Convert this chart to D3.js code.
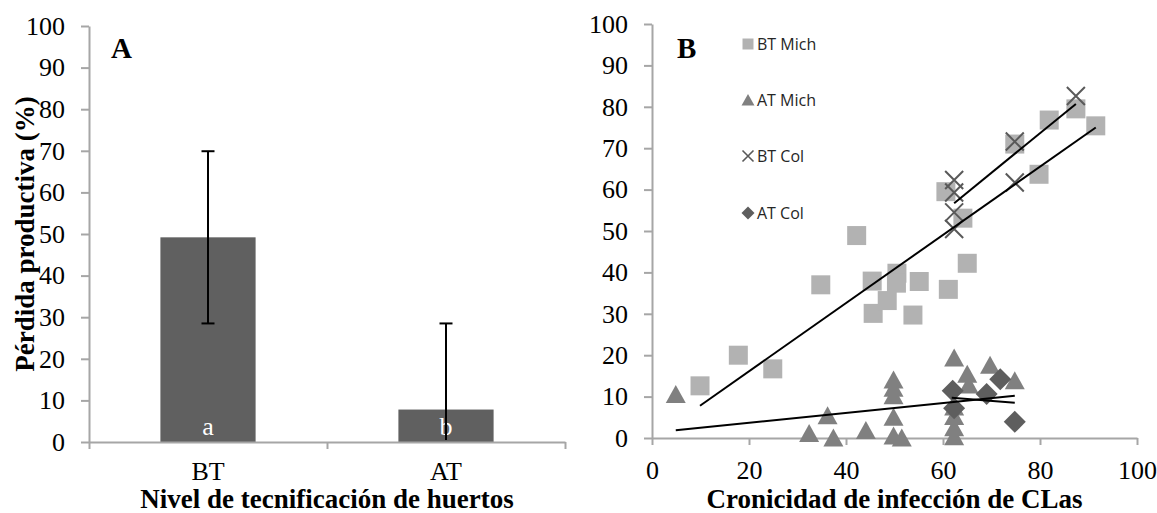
<!DOCTYPE html>
<html><head><meta charset="utf-8">
<script src="https://cdn.jsdelivr.net/npm/d3@7"></script>
<style>
html,body{margin:0;padding:0;background:#fff;}
svg{display:block;}
</style></head>
<body>
<svg id="chart" width="1157" height="513"></svg>
<script>
// ---------- DATA ----------
const barCategories = ["BT", "AT"];
const barValues = [49.2, 7.8];
const barErrors = [20.7, 20.7];
const barLetters = ["a", "b"];
const yTicksA = [0,10,20,30,40,50,60,70,80,90,100];

const xTicksB = [0,20,40,60,80,100];
const yTicksB = [0,10,20,30,40,50,60,70,80,90,100];
const seriesNames = ["BT Mich", "AT Mich", "BT Col", "AT Col"];
const btMich = [[9.9,12.6],[17.8,20.0],[24.9,16.7],[34.8,37.0],[42.2,48.9],[45.4,37.9],[45.6,30.1],[48.5,33.2],[50.5,39.8],[50.4,37.4],[55.1,37.8],[53.8,29.7],[61.1,35.9],[65.0,42.2],[60.6,59.5],[64.1,53.1],[74.8,71.0],[79.8,63.7],[81.9,76.8],[87.4,79.5],[91.5,75.4]];
const atMich = [[4.9,10.5],[32.4,1.1],[36.2,5.4],[37.4,0],[44.1,1.8],[49.8,14],[49.8,12],[49.8,10.2],[49.8,5],[49.8,0.5],[51.5,0],[62.3,19.3],[62.3,7.5],[62.3,5.2],[62.3,2.5],[62.3,0.3],[65,15.4],[65.3,12.8],[69.7,17.6],[74.8,13.8]];
const btCol = [[62.3,62.3],[62.3,59.3],[62.3,54.5],[62.3,50.5],[74.8,71.6],[74.8,61.7],[87.4,82.6]];
const atCol = [[62.0,11.4],[62.3,7.2],[69.0,10.6],[71.8,14.2],[74.8,3.9]];
// trendline endpoints [x0,y0,x1,y1] in data units
const trendBTMich = [9.9,7.8,91.5,75.0];
const trendBTCol = [62.3,56.7,87.4,80.7];
const trendATMich = [4.9,1.9,74.8,10.2];
const trendATCol = [61.8,9.7,74.8,8.5];

// ---------- STYLE ----------
const serif = "'Liberation Serif','Times New Roman',serif";
const sans = "'Open Sans','Liberation Sans',sans-serif";
const axisColor = "#a6a6a6";
const tickFont = 26, titleFont = 27;
const svg = d3.select("#chart");

function styleAxis(g){
  g.select(".domain").attr("stroke", axisColor).attr("stroke-width", 2);
  g.selectAll(".tick line").attr("stroke", axisColor).attr("stroke-width", 2);
  g.selectAll(".tick text").attr("font-family", serif).attr("font-size", tickFont).attr("fill", "#000");
}

// ---------- PANEL A ----------
const A = {left: 89, right: 565, top: 26, bottom: 442};
const xA = d3.scaleBand().domain(barCategories).range([A.left, A.right]).paddingInner(0.6).paddingOuter(0.3);
const xAedge = d3.scaleLinear().domain([0, barCategories.length]).range([A.left, A.right]);
const yA = d3.scaleLinear().domain([0,100]).range([A.bottom, A.top]);

const gA = svg.append("g");
gA.selectAll("rect.bar").data(barValues).join("rect")
  .attr("x", (d,i)=>xA(barCategories[i]))
  .attr("width", xA.bandwidth())
  .attr("y", d=>yA(d))
  .attr("height", d=>yA(0)-yA(d))
  .attr("fill", "#606060");

gA.append("g").attr("transform", `translate(${A.left},0)`)
  .call(d3.axisLeft(yA).tickValues(yTicksA).tickSize(8).tickPadding(16).tickSizeOuter(0))
  .call(styleAxis);
gA.append("g").attr("transform", `translate(0,${A.bottom})`)
  .call(d3.axisBottom(xAedge).tickValues(d3.range(barCategories.length+1)).tickSize(7).tickFormat("").tickSizeOuter(0))
  .call(styleAxis);
gA.selectAll("text.cat").data(barCategories).join("text")
  .attr("x", d=>xA(d)+xA.bandwidth()/2).attr("y", 480)
  .attr("text-anchor","middle").attr("font-family", serif).attr("font-size", tickFont).text(d=>d);

gA.selectAll("text.let").data(barLetters).join("text")
  .attr("x", (d,i)=>xA(barCategories[i])+xA.bandwidth()/2).attr("y", 435)
  .attr("text-anchor","middle").attr("font-family", serif).attr("font-size", tickFont).attr("fill","#fff").text(d=>d);

barValues.forEach((v,i)=>{
  const cx = xA(barCategories[i])+xA.bandwidth()/2;
  const hi = v+barErrors[i], lo = Math.max(0, v-barErrors[i]);
  gA.append("line").attr("x1",cx).attr("x2",cx).attr("y1",yA(hi)).attr("y2",yA(lo)-(v-barErrors[i] > 0 ? 0 : 2)).attr("stroke","#000").attr("stroke-width",2);
  gA.append("line").attr("x1",cx-6.5).attr("x2",cx+6.5).attr("y1",yA(hi)).attr("y2",yA(hi)).attr("stroke","#000").attr("stroke-width",2);
  if (v-barErrors[i] > 0)
    gA.append("line").attr("x1",cx-6.5).attr("x2",cx+6.5).attr("y1",yA(lo)).attr("y2",yA(lo)).attr("stroke","#000").attr("stroke-width",2);
});

gA.append("text").attr("x",111).attr("y",58).attr("font-family",serif).attr("font-weight","bold").attr("font-size",29).text("A");
gA.append("text").attr("transform",`translate(34,${(A.top+A.bottom)/2}) rotate(-90)`)
  .attr("text-anchor","middle").attr("font-family",serif).attr("font-weight","bold").attr("font-size",titleFont).text("Pérdida productiva (%)");
gA.append("text").attr("x",(A.left+A.right)/2).attr("y",508).attr("text-anchor","middle")
  .attr("font-family",serif).attr("font-weight","bold").attr("font-size",titleFont).text("Nivel de tecnificación de huertos");

// ---------- PANEL B ----------
const B = {left: 652, right: 1137, top: 24, bottom: 438};
const xB = d3.scaleLinear().domain([0,100]).range([B.left, B.right]);
const yB = d3.scaleLinear().domain([0,100]).range([B.bottom, B.top]);
const gB = svg.append("g");

gB.append("g").attr("transform", `translate(${B.left},0)`)
  .call(d3.axisLeft(yB).tickValues(yTicksB).tickSize(8).tickPadding(16).tickSizeOuter(0))
  .call(styleAxis);
gB.append("g").attr("transform", `translate(0,${B.bottom})`)
  .call(d3.axisBottom(xB).tickValues(xTicksB).tickSize(7).tickPadding(16).tickSizeOuter(0))
  .call(styleAxis);

const colBTMich = "#b2b2b2", colATMich = "#808080", colBTCol = "#595959", colATCol = "#5e5e5e";
const sqPath = d3.symbol().type(d3.symbolSquare).size(19*19)();
const triPath = "M0,-9.5L10,8.5L-10,8.5Z";
const diaPath = "M0,-11L11,0L0,11L-11,0Z";
const xPath = "M-9,-9L9,9M-9,9L9,-9";

gB.selectAll("path.sq").data(btMich).join("path")
  .attr("d", sqPath).attr("transform", d=>`translate(${xB(d[0])},${yB(d[1])})`).attr("fill", colBTMich);
gB.selectAll("path.tri").data(atMich).join("path")
  .attr("d", triPath).attr("transform", d=>`translate(${xB(d[0])},${yB(d[1])})`).attr("fill", colATMich);
gB.selectAll("path.xx").data(btCol).join("path")
  .attr("d", xPath).attr("transform", d=>`translate(${xB(d[0])},${yB(d[1])})`).attr("fill","none").attr("stroke", colBTCol).attr("stroke-width", 2);
gB.selectAll("path.dia").data(atCol).join("path")
  .attr("d", diaPath).attr("transform", d=>`translate(${xB(d[0])},${yB(d[1])})`).attr("fill", colATCol);

[trendBTMich, trendBTCol, trendATMich, trendATCol].forEach(t=>{
  gB.append("line").attr("x1",xB(t[0])).attr("y1",yB(t[1])).attr("x2",xB(t[2])).attr("y2",yB(t[3]))
    .attr("stroke","#000").attr("stroke-width",2);
});

const legY = [44, 100, 156, 213];
const legendPaths = [
  {d: d3.symbol().type(d3.symbolSquare).size(11*11)(), fill: colBTMich, stroke: "none"},
  {d: "M0,-6L6.5,5.5L-6.5,5.5Z", fill: colATMich, stroke: "none"},
  {d: "M-5.5,-5.5L5.5,5.5M-5.5,5.5L5.5,-5.5", fill: "none", stroke: colBTCol},
  {d: "M0,-6.5L6.5,0L0,6.5L-6.5,0Z", fill: colATCol, stroke: "none"}
];
const leg = gB.append("g");
seriesNames.forEach((n,i)=>{
  leg.append("path").attr("d", legendPaths[i].d).attr("transform",`translate(748,${legY[i]})`)
    .attr("fill", legendPaths[i].fill).attr("stroke", legendPaths[i].stroke).attr("stroke-width",1.6);
  leg.append("text").attr("x",757).attr("y",legY[i]+6).attr("font-family",sans).attr("font-size",16).attr("fill","#262626").text(n);
});

gB.append("text").attr("x",677).attr("y",58).attr("font-family",serif).attr("font-weight","bold").attr("font-size",29).text("B");
gB.append("text").attr("x",(B.left+B.right)/2).attr("y",508).attr("text-anchor","middle")
  .attr("font-family",serif).attr("font-weight","bold").attr("font-size",titleFont).text("Cronicidad de infección de CLas");
</script>
</body></html>
